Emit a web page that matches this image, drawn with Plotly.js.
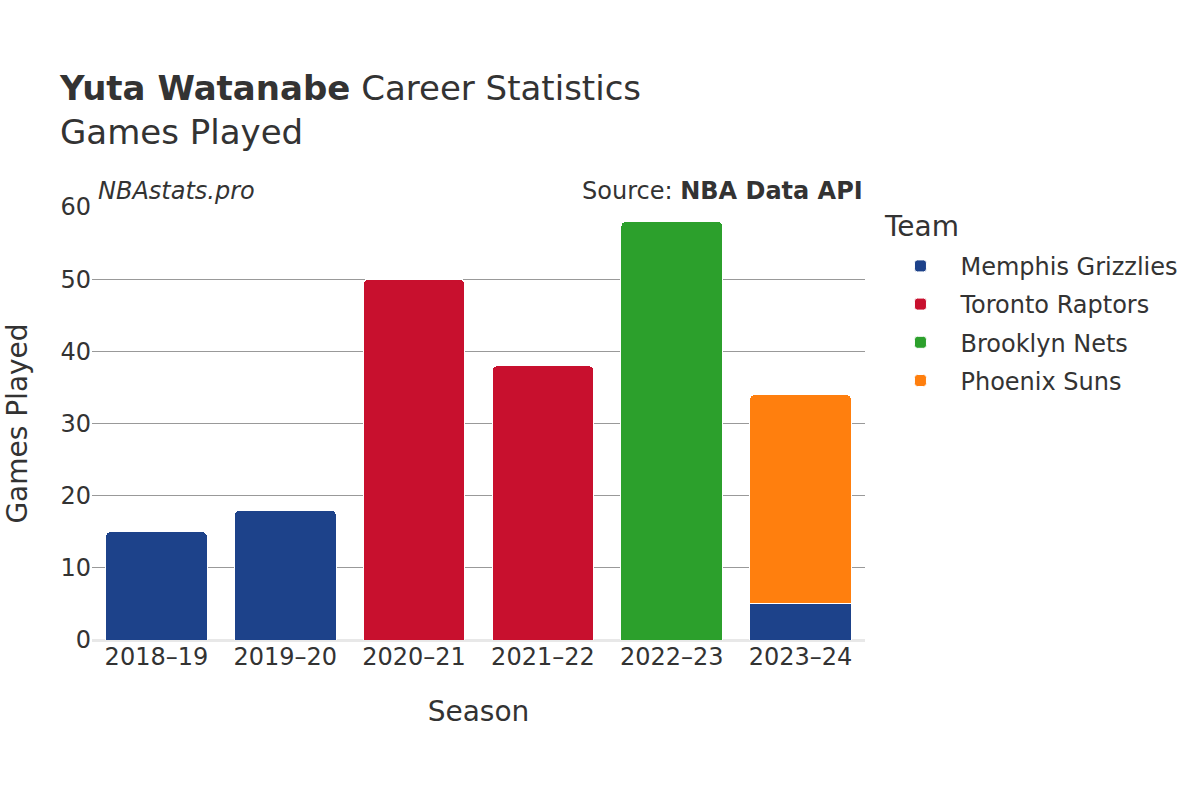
<!DOCTYPE html>
<html>
<head>
<meta charset="utf-8">
<script src="https://cdn.plot.ly/plotly-3.0.1.min.js"></script>
<style>body{margin:0;padding:0;}#chart{width:1200px;height:800px;}</style>
</head>
<body>
<div id="chart"></div>
<script>
// Seasons on the x axis
var seasons = ['2018–19', '2019–20', '2020–21', '2021–22', '2022–23', '2023–24'];

// games played per team, by season
var memphisSeasons = ['2018–19', '2019–20', '2023–24'];
var memphisGames = [15, 18, 5];
var torontoSeasons = ['2020–21', '2021–22'];
var torontoGames = [50, 38];
var brooklynSeasons = ['2022–23'];
var brooklynGames = [58];
var phoenixSeasons = ['2023–24'];
var phoenixGames = [29];

var font = 'DejaVu Sans, sans-serif';

function team(name, x, y, color) {
  return {
    type: 'bar',
    name: name,
    legendgroup: name,
    x: x,
    y: y,
    marker: {color: color, line: {color: '#ffffff', width: 1}},
    hoverinfo: 'x+y+name'
  };
}

var data = [
  team('Memphis Grizzlies', memphisSeasons, memphisGames, '#1D428A'),
  team('Toronto Raptors', torontoSeasons, torontoGames, '#C8102E'),
  team('Brooklyn Nets', brooklynSeasons, brooklynGames, '#2CA02C'),
  team('Phoenix Suns', phoenixSeasons, phoenixGames, '#FF7F0E')
];

var layout = {
  width: 1200,
  height: 800,
  font: {family: font, color: '#333333', size: 24},
  paper_bgcolor: '#ffffff',
  plot_bgcolor: '#ffffff',
  barmode: 'stack',
  bargap: 0.21,
  barcornerradius: 5,
  margin: {l: 92, r: 335, t: 207, b: 160},
  title: {
    text: '<b>Yuta Watanabe</b> Career Statistics<br>Games Played',
    x: 0.05,
    xanchor: 'left',
    y: 0.875,
    yanchor: 'top',
    font: {family: font, size: 34, color: '#333333'}
  },
  xaxis: {
    categoryorder: 'array',
    categoryarray: seasons,
    title: {text: 'Season', font: {size: 28}, standoff: 31},
    tickfont: {size: 24},
    showgrid: false,
    showline: false,
    ticks: ''
  },
  yaxis: {
    range: [0, 60],
    dtick: 10,
    title: {text: 'Games Played', font: {size: 28}, standoff: 24},
    tickfont: {size: 24},
    gridcolor: '#999999',
    gridwidth: 1,
    zeroline: true,
    zerolinecolor: '#e8e8e8',
    zerolinewidth: 3,
    ticks: ''
  },
  legend: {
    traceorder: 'grouped',
    x: 1.02,
    xanchor: 'left',
    y: 0.915,
    yanchor: 'top',
    font: {size: 24},
    tracegroupgap: 4,
    itemwidth: 70
  },
  annotations: [
    {
      text: 'Team',
      xref: 'paper', yref: 'paper',
      x: 1.022, y: 0.956,
      xanchor: 'left', yanchor: 'middle',
      showarrow: false,
      font: {size: 28, color: '#333333'}
    },
    {
      text: '<i>NBAstats.pro</i>',
      xref: 'paper', yref: 'paper',
      x: 0, y: 1,
      xshift: 4,
      xanchor: 'left', yanchor: 'bottom',
      showarrow: false,
      font: {size: 24, color: '#333333'}
    },
    {
      text: 'Source: <b>NBA Data API</b>',
      xref: 'paper', yref: 'paper',
      x: 1, y: 1,
      xanchor: 'right', yanchor: 'bottom',
      showarrow: false,
      font: {size: 24, color: '#333333'}
    }
  ]
};

Plotly.newPlot('chart', data, layout, {displayModeBar: false});
</script>
</body>
</html>
